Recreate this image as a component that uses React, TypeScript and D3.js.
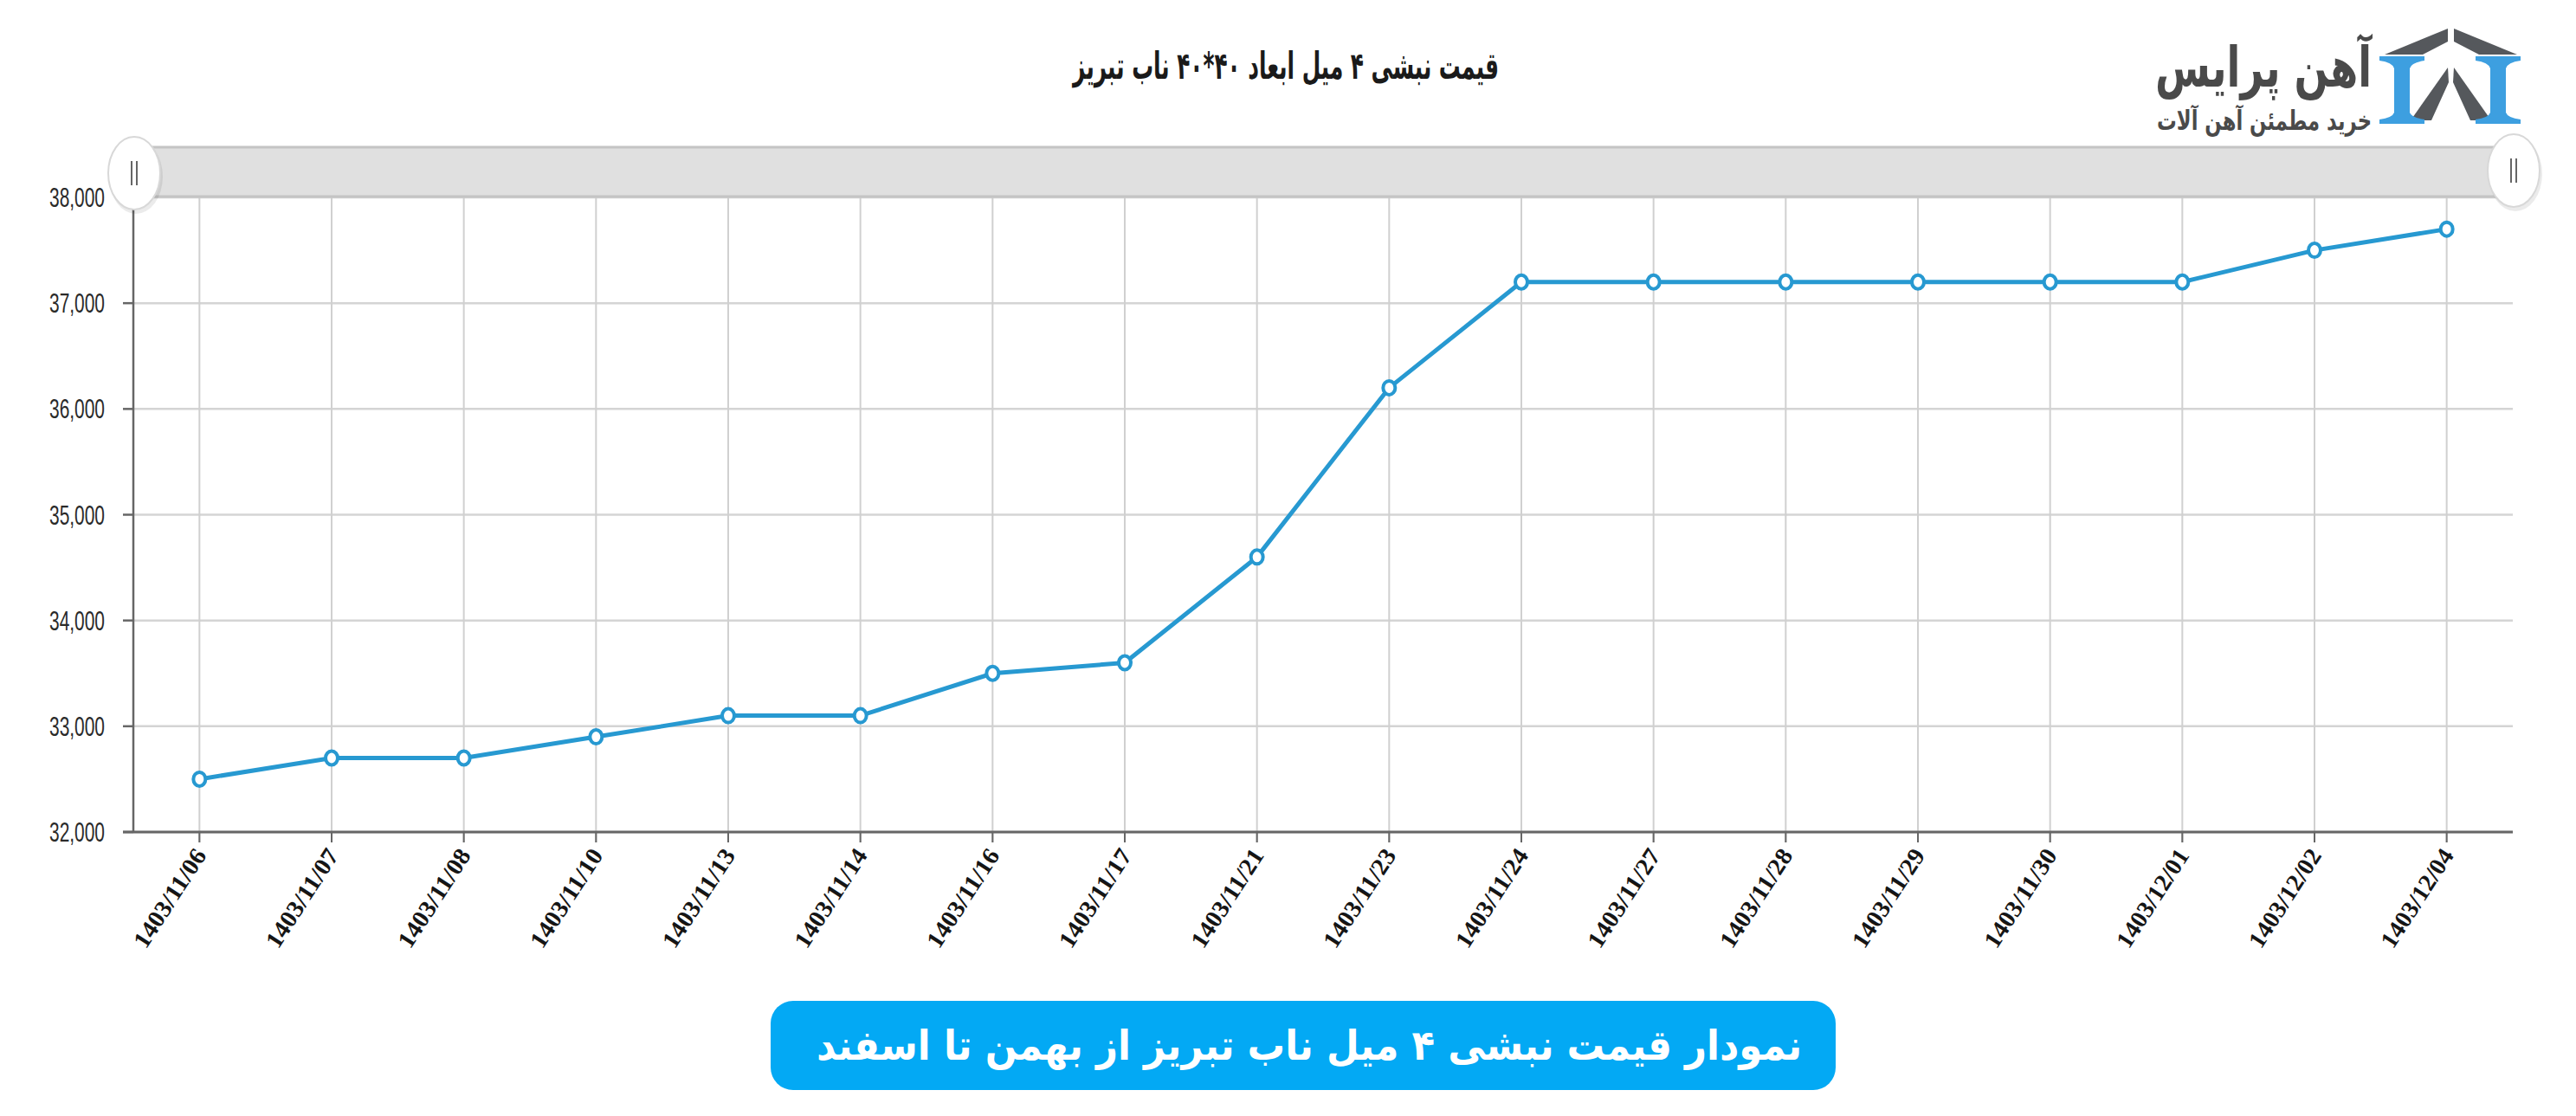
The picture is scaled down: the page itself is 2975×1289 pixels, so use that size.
import React from "react";
import * as d3 from "d3";

// قیمت نبشی ۴ میل ابعاد ۴۰*۴۰ ناب تبریز
const dates = [
  "1403/11/06",
  "1403/11/07",
  "1403/11/08",
  "1403/11/10",
  "1403/11/13",
  "1403/11/14",
  "1403/11/16",
  "1403/11/17",
  "1403/11/21",
  "1403/11/23",
  "1403/11/24",
  "1403/11/27",
  "1403/11/28",
  "1403/11/29",
  "1403/11/30",
  "1403/12/01",
  "1403/12/02",
  "1403/12/04",
];
const prices = [
  32500, 32700, 32700, 32900, 33100, 33100, 33500, 33600, 34600, 36200, 37200,
  37200, 37200, 37200, 37200, 37200, 37500, 37700,
];
const yTicks = [32000, 33000, 34000, 35000, 36000, 37000, 38000];

const title = "قیمت نبشی ۴ میل ابعاد ۴۰*۴۰ ناب تبریز";
const caption = "نمودار قیمت نبشی ۴ میل ناب تبریز از بهمن تا اسفند";
const brand = "آهن پرایس";
const slogan = "خرید مطمئن آهن آلات";

const W = 2975;
const H = 1289;
const left = 154;
const right = 2902;
const top = 228;
const bottom = 961;

const LINE = "#2799d1";

const Handle = ({ cx, cy }: { cx: number; cy: number }) => (
  <g>
    <ellipse cx={cx + 2} cy={cy + 4} rx={31} ry={43} fill="#000" opacity={0.08} />
    <ellipse cx={cx} cy={cy} rx={30} ry={42} fill="#fff" stroke="#d8d8d8" strokeWidth={2} />
    <line x1={cx - 3} x2={cx - 3} y1={cy - 14} y2={cy + 14} stroke="#666" strokeWidth={2} />
    <line x1={cx + 3} x2={cx + 3} y1={cy - 14} y2={cy + 14} stroke="#666" strokeWidth={2} />
  </g>
);

const Logo = () => {
  const beam =
    "M0,32 L52,32 L52,37 Q37,39 35,46 L35,97 Q37,103 52,105 L52,110 L0,110 L0,105 Q15,103 17,97 L17,46 Q15,39 0,37 Z";
  return (
    <g>
      <g transform="translate(2748,33)">
        <polygon points="79,0 6,30 50,30 79,15" fill="#55585c" />
        <polygon points="86,0 159,30 115,30 86,15" fill="#55585c" />
        <polygon points="79,45 36,106 60,106 80,62" fill="#55585c" />
        <polygon points="86,45 129,106 105,106 85,62" fill="#55585c" />
        <path d={beam} fill="#3d9fe0" />
        <path d={beam} fill="#3d9fe0" transform="translate(111,0)" />
      </g>
      <text
        x={2739}
        y={100}
        textAnchor="end"
        fontFamily="DejaVu Sans"
        fontWeight="bold"
        fontSize={64}
        textLength={250}
        lengthAdjust="spacingAndGlyphs"
        fill="#4a4a4a"
      >
        {brand}
      </text>
      <text
        x={2739}
        y={150}
        textAnchor="end"
        fontFamily="DejaVu Sans"
        fontWeight="bold"
        fontSize={31}
        textLength={248}
        lengthAdjust="spacingAndGlyphs"
        fill="#4a4a4a"
      >
        {slogan}
      </text>
    </g>
  );
};

const App = () => {
  const x = d3.scalePoint<string>().domain(dates).range([left, right]).padding(0.5);
  const y = d3.scaleLinear().domain([32000, 38000]).range([bottom, top]);
  const fmt = d3.format(",");
  const line = d3
    .line<number>()
    .x((_, i) => x(dates[i]) as number)
    .y((d) => y(d));

  return (
    <svg
      width={W}
      height={H}
      style={{ position: "absolute", left: 0, top: 0, background: "#fff" }}
    >
      <rect width={W} height={H} fill="#fff" />

      <text
        x={1485}
        y={91}
        textAnchor="middle"
        fontFamily="DejaVu Sans"
        fontWeight="bold"
        fontSize={43}
        textLength={492}
        lengthAdjust="spacingAndGlyphs"
        fill="#1a1a1a"
      >
        {title}
      </text>

      <Logo />

      {/* grid */}
      {yTicks.map((t) => (
        <line key={t} x1={left} x2={right} y1={y(t)} y2={y(t)} stroke="#d4d4d4" strokeWidth={2.5} />
      ))}
      {dates.map((d) => (
        <line
          key={d}
          x1={x(d)}
          x2={x(d)}
          y1={top}
          y2={bottom + 12}
          stroke="#d0d0d0"
          strokeWidth={2}
        />
      ))}

      {/* axes */}
      <line x1={left} x2={left} y1={top} y2={bottom} stroke="#666" strokeWidth={2.5} />
      <line x1={left - 12} x2={right} y1={bottom} y2={bottom} stroke="#666" strokeWidth={3} />
      {yTicks.map((t) => (
        <g key={t}>
          <line x1={left - 12} x2={left} y1={y(t)} y2={y(t)} stroke="#666" strokeWidth={2.5} />
          <text
            x={121}
            y={y(t) + 11}
            textAnchor="end"
            fontFamily="Liberation Sans"
            fontSize={31}
            textLength={64}
            lengthAdjust="spacingAndGlyphs"
            fill="#2a2a2a"
          >
            {fmt(t)}
          </text>
        </g>
      ))}
      {dates.map((d) => (
        <g key={d}>
          <line x1={x(d)} x2={x(d)} y1={bottom} y2={bottom + 12} stroke="#666" strokeWidth={2} />
          <text
            transform={`translate(${(x(d) as number) + 9},${bottom + 27}) rotate(-57)`}
            textAnchor="end"
            fontFamily="Liberation Serif"
            fontWeight="bold"
            fontSize={28}
            textLength={130}
            lengthAdjust="spacingAndGlyphs"
            fill="#151515"
          >
            {d}
          </text>
        </g>
      ))}

      {/* scroll bar */}
      <rect x={left} y={169} width={right - left} height={59} fill="#e0e0e0" />
      <line x1={left} x2={right} y1={170} y2={170} stroke="#c4c4c4" strokeWidth={3} />
      <line x1={left} x2={right} y1={227} y2={227} stroke="#c4c4c4" strokeWidth={3} />
      <Handle cx={155} cy={200} />
      <Handle cx={2903} cy={197} />

      {/* series */}
      <path d={line(prices) || ""} fill="none" stroke={LINE} strokeWidth={5} />
      {prices.map((p, i) => (
        <ellipse
          key={i}
          cx={x(dates[i])}
          cy={y(p)}
          rx={7}
          ry={8}
          fill="#fff"
          stroke={LINE}
          strokeWidth={4}
        />
      ))}

      {/* caption button */}
      <rect x={890} y={1156} width={1230} height={103} rx={26} fill="#03a9f4" />
      <text
        x={1512}
        y={1224}
        textAnchor="middle"
        fontFamily="DejaVu Sans"
        fontWeight="bold"
        fontSize={48}
        textLength={1138}
        lengthAdjust="spacingAndGlyphs"
        fill="#fff"
      >
        {caption}
      </text>
    </svg>
  );
};

export default App;
